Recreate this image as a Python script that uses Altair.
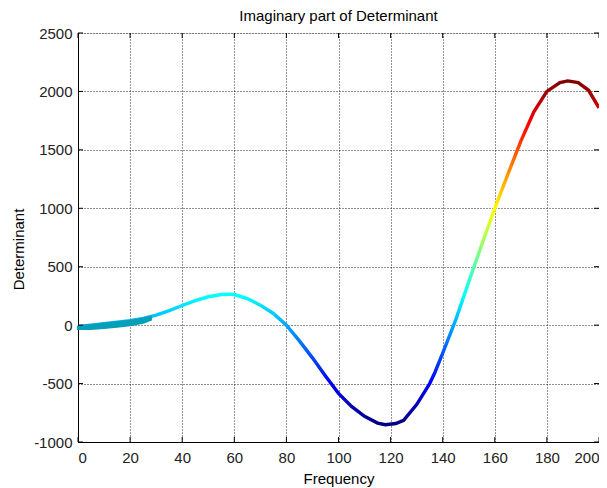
import altair as alt
import pandas as pd

# Main curve
freq = [0, 5, 10, 15, 20, 25, 30, 35, 40, 45, 50, 55, 57, 60, 65, 70, 75, 80, 85, 90,
        95, 100, 105, 110, 115, 118, 122, 125, 130, 135, 137, 140, 145, 150, 155, 160, 165,
        170, 175, 180, 185, 188, 192, 196, 200]
det = [-12, 0, 12, 25, 38, 58, 85, 125, 168, 210, 243, 262, 265, 262, 228, 171, 100, 0,
       -135, -280, -435, -584, -695, -780, -838, -852, -842, -815, -680, -500, -405, -240, 45,
       370, 690, 1000, 1290, 1575, 1825, 2000, 2075, 2090, 2075, 2010, 1860]

# Thick teal band at the start
band_freq = [0, 5, 10, 15, 20, 25, 28]
band_upper = [-12, 0, 12, 25, 38, 58, 72]
band_lower = [-32, -32, -24, -14, -2, 20, 45]

x_ticks = [0, 20, 40, 60, 80, 100, 120, 140, 160, 180, 200]
y_ticks = [-1000, -500, 0, 500, 1000, 1500, 2000, 2500]

main_df = pd.DataFrame({"Frequency": freq, "Determinant": det})
band_df = pd.DataFrame({"Frequency": band_freq, "upper": band_upper, "lower": band_lower})
xt_df = pd.DataFrame({"v": x_ticks})
yt_df = pd.DataFrame({"v": y_ticks})

FONT = "Liberation Sans"
W, H = 521, 409

xscale = alt.Scale(domain=[0, 200], nice=False, zero=False)
yscale = alt.Scale(domain=[-1000, 2500], nice=False, zero=False)

jet = alt.LinearGradient(
    gradient="linear",
    x1=0, x2=0, y1=1, y2=0,
    stops=[
        alt.GradientStop(color="#000080", offset=0),
        alt.GradientStop(color="#0000ff", offset=0.125),
        alt.GradientStop(color="#00ffff", offset=0.375),
        alt.GradientStop(color="#ffff00", offset=0.625),
        alt.GradientStop(color="#ff0000", offset=0.875),
        alt.GradientStop(color="#800000", offset=1),
    ],
)

axis_common = dict(
    grid=True, gridColor="black", gridDash=[1, 2], gridWidth=1, gridOpacity=0.85,
    domainColor="black", domainWidth=1, tickSize=0,
    labelFont=FONT, labelFontSize=15, labelColor="#222222",
    titleFont=FONT, titleFontSize=15, titleFontWeight="normal", titleColor="black",
    labelExpr="'' + datum.value",
)
xaxis = alt.Axis(values=x_ticks, labelPadding=8, title="Frequency",
                 titleY=41, titleBaseline="alphabetic", **axis_common)
yaxis = alt.Axis(values=y_ticks, labelPadding=6, title="Determinant",
                 titleX=-55, titleY=216, titleBaseline="alphabetic", **axis_common)

main = alt.Chart(main_df).mark_line(stroke=jet, strokeWidth=3.4).encode(
    x=alt.X("Frequency:Q", scale=xscale, axis=xaxis, title="Frequency"),
    y=alt.Y("Determinant:Q", scale=yscale, axis=yaxis, title="Determinant"),
)

band = alt.Chart(band_df).mark_area(color="#05a0b8", stroke="#05a0b8", strokeWidth=2).encode(
    x=alt.X("Frequency:Q", scale=xscale, axis=xaxis, title="Frequency"),
    y=alt.Y("upper:Q", scale=yscale, axis=yaxis, title="Determinant"),
    y2="lower:Q",
)

tick_style = dict(color="black", strokeWidth=1)
xt_bottom = alt.Chart(xt_df).mark_rule(**tick_style).encode(
    x=alt.X("v:Q", scale=xscale, axis=xaxis, title="Frequency"),
    y=alt.value(H), y2=alt.value(H - 5))
xt_top = alt.Chart(xt_df).mark_rule(**tick_style).encode(
    x=alt.X("v:Q", scale=xscale, axis=xaxis, title="Frequency"),
    y=alt.value(0), y2=alt.value(5))
yt_left = alt.Chart(yt_df).mark_rule(**tick_style).encode(
    y=alt.Y("v:Q", scale=yscale, axis=yaxis, title="Determinant"),
    x=alt.value(0), x2=alt.value(5))
yt_right = alt.Chart(yt_df).mark_rule(**tick_style).encode(
    y=alt.Y("v:Q", scale=yscale, axis=yaxis, title="Determinant"),
    x=alt.value(W), x2=alt.value(W - 5))

chart = alt.layer(main, band, xt_bottom, xt_top, yt_left, yt_right).properties(
    width=W, height=H,
    title=alt.TitleParams("Imaginary part of Determinant", font=FONT, fontSize=15,
                          fontWeight="normal", color="black", offset=2, frame="group"),
    autosize=alt.AutoSizeParams(type="none"),
    padding={"left": 70, "top": 25, "right": 0, "bottom": 46},
).configure_view(stroke="black", strokeWidth=1).configure(background="white")

chart.save("out.html", embed_options={"renderer": "svg", "actions": False})
